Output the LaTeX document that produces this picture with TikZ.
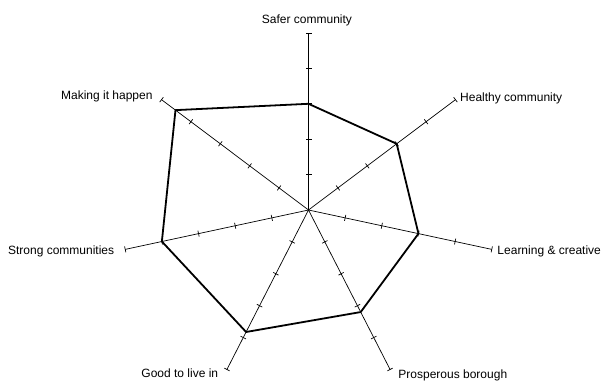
\documentclass[tikz,border=0pt]{standalone}
\usepackage{fontspec}
\setmainfont{Liberation Sans}
\usetikzlibrary{calc}
\begin{document}
\begin{tikzpicture}[x=1pt,y=1pt,
  spoke/.style={line width=0.7pt},
  tickmark/.style={line width=0.7pt},
  score/.style={line width=1.8pt, line join=round},
  axislabel/.style={font=\fontsize{12}{14}\selectfont, inner sep=0pt}]
\useasboundingbox (-308.5,-170) rectangle (292.5,210);
\def\rx{188}\def\ry{177}
\coordinate (O) at (0,0);
% axis ends (A) and plotted scores (P), clockwise from the top
\foreach \i/\v in {1/0.6,2/0.6,3/0.6,4/0.64,5/0.765,6/0.8,7/0.905}{
  \pgfmathsetmacro\ang{90-(\i-1)*360/7}
  \coordinate (A\i) at ({\rx*cos(\ang)},{\ry*sin(\ang)});
  \coordinate (P\i) at ({\v*\rx*cos(\ang)},{\v*\ry*sin(\ang)});
}
% spokes with five tick marks each
\foreach \i in {1,...,7}{
  \draw[spoke] (O) -- (A\i);
  \foreach \f in {0.2,0.4,0.6,0.8,1}
    \draw[tickmark] ($(O)!\f!(A\i)!3pt!90:(O)$) -- ($(O)!\f!(A\i)!3pt!-90:(O)$);
}
% score polygon
\draw[score] (P1) -- (P2) -- (P3) -- (P4) -- (P5) -- (P6) -- (P7) -- cycle;
% axis labels
\node[axislabel, anchor=base] (L1) at ([shift={(-1.5,9)}]A1) {Safer community};
\node[axislabel, anchor=base west] (L2) at ([shift={(4.5,-1.4)}]A2) {Healthy community};
\node[axislabel, anchor=base west] (L3) at ([shift={(5.5,-5.6)}]A3) {Learning \& creative};
\node[axislabel, anchor=base west] (L4) at ([shift={(8.2,-8.8)}]A4) {Prosperous borough};
\node[axislabel, anchor=base east] (L5) at ([shift={(-8.6,-8.5)}]A5) {Good to live in};
\node[axislabel, anchor=base east] (L6) at ([shift={(-10.9,-4.9)}]A6) {Strong communities};
\node[axislabel, anchor=base east] (L7) at ([shift={(-8.8,0.3)}]A7) {Making it happen};
\end{tikzpicture}
\end{document}
